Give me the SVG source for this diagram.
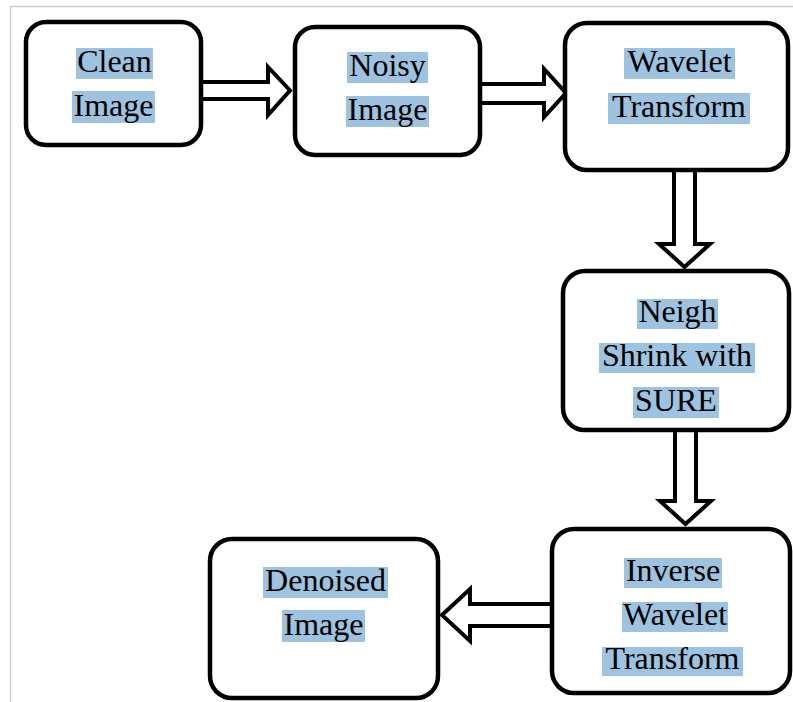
<svg xmlns="http://www.w3.org/2000/svg" width="793" height="702" viewBox="0 0 793 702">
<style>
.box{fill:#fff;stroke:#000;stroke-width:4.5}
.hl{fill:#9dc3e0}
.t{font-family:'Liberation Serif','Times New Roman',serif;font-size:32px;fill:#000;text-anchor:middle}
.arr{fill:#fff;stroke:#000;stroke-width:4;stroke-linejoin:miter}
</style>
<rect width="793" height="702" fill="#fff"/>
<g id="frame"><path d="M10.5 702 V6.5 H793" fill="none" stroke="#cfcfcf" stroke-width="1.5"/></g>
<g id="connectors">
<polygon class="arr" points="201,82 268,82 268,67 290,90.5 268,115 268,99 201,99"/>
<polygon class="arr" points="480,84 544,84 544,69 566,93 544,117 544,103 480,103"/>
<polygon class="arr" points="674,170 695,170 695,244 710,244 684.5,267 659,244 674,244"/>
<polygon class="arr" points="675,430 696,430 696,501 711,501 685.5,524 660,501 675,501"/>
<polygon class="arr" points="552,604 470,604 470,589 442,615 470,641 470,626 552,626"/>
</g>
<g id="clean">
<rect class="box" x="26" y="22" width="175" height="123" rx="20"/>
<rect class="hl" x="76" y="48" width="77" height="31"/>
<rect class="hl" x="72" y="91" width="83" height="32"/>
<text class="t" x="114.5" y="72">Clean</text>
<text class="t" x="113.5" y="116">Image</text>
</g>
<g id="noisy">
<rect class="box" x="295" y="27" width="185" height="128" rx="20"/>
<rect class="hl" x="347" y="52" width="81" height="31"/>
<rect class="hl" x="346" y="96" width="83" height="31"/>
<text class="t" x="387.5" y="76">Noisy</text>
<text class="t" x="387.5" y="120">Image</text>
</g>
<g id="wavelet">
<rect class="box" x="565" y="23" width="223" height="147" rx="22"/>
<rect class="hl" x="624" y="48" width="111" height="31"/>
<rect class="hl" x="608" y="93" width="142" height="31"/>
<text class="t" x="679.5" y="72">Wavelet</text>
<text class="t" x="679" y="117">Transform</text>
</g>
<g id="neigh">
<rect class="box" x="563" y="271" width="226" height="159" rx="22"/>
<rect class="hl" x="637" y="299" width="81" height="30"/>
<rect class="hl" x="599" y="343" width="156" height="30"/>
<rect class="hl" x="633" y="387" width="86" height="31"/>
<text class="t" x="677.5" y="322">Neigh</text>
<text class="t" x="677" y="366">Shrink with</text>
<text class="t" x="676" y="411">SURE</text>
</g>
<g id="inverse">
<rect class="box" x="552" y="529" width="238" height="164" rx="22"/>
<rect class="hl" x="624" y="558" width="98" height="30"/>
<rect class="hl" x="622" y="602" width="106" height="30"/>
<rect class="hl" x="602" y="647" width="141" height="29"/>
<text class="t" x="673" y="581">Inverse</text>
<text class="t" x="675" y="625">Wavelet</text>
<text class="t" x="672.5" y="669">Transform</text>
</g>
<g id="denoised">
<rect class="box" x="210" y="539" width="228" height="159" rx="22"/>
<rect class="hl" x="263" y="567" width="125" height="31"/>
<rect class="hl" x="282" y="610" width="83" height="32"/>
<text class="t" x="325.5" y="591">Denoised</text>
<text class="t" x="323.5" y="635">Image</text>
</g>
</svg>
